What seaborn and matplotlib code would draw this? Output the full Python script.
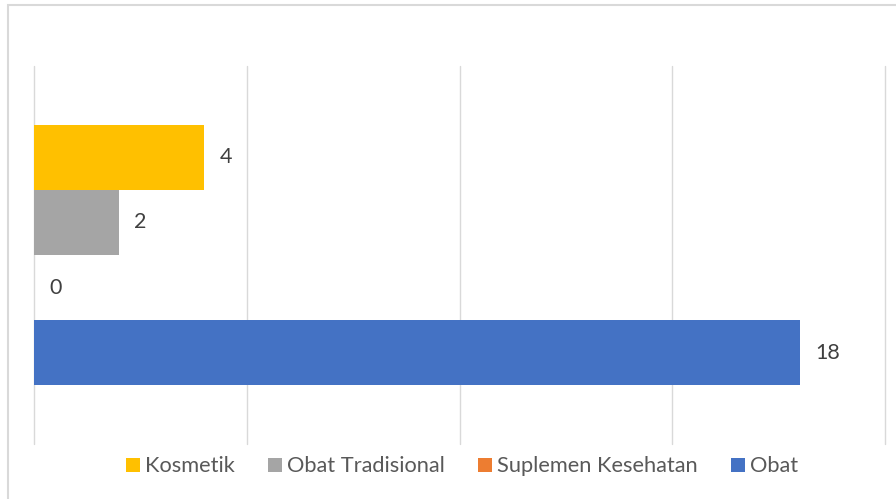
import matplotlib
matplotlib.use("Agg")
import matplotlib.pyplot as plt
from matplotlib.patches import Patch, Rectangle
import pandas as pd
import seaborn as sns

# Jumlah produk per jenis
series = ["Kosmetik", "Obat Tradisional", "Suplemen Kesehatan", "Obat"]
values = [4, 2, 0, 18]
colors = ["#FFC000", "#A5A5A5", "#ED7D31", "#4472C4"]
x_ticks = [0, 5, 10, 15, 20]

df = pd.DataFrame({"Kategori": [""] * len(series), "Jenis": series, "Jumlah": values})

sns.set_theme(style="white")
plt.rcParams["font.family"] = ["Lato", "DejaVu Sans"]

W, H = 896, 499
fig = plt.figure(figsize=(W / 100, H / 100), dpi=100)
ax = fig.add_axes([34 / W, 1 - 444 / H, (885 - 34) / W, (444 - 66) / H])

sns.barplot(data=df, x="Jumlah", y="Kategori", hue="Jenis", hue_order=series,
            palette=colors, orient="h", width=0.69, gap=0, errorbar=None,
            saturation=1, legend=False, linewidth=0, ax=ax)

ax.set_xlim(x_ticks[0], x_ticks[-1])
ax.set_xticks(x_ticks)
ax.set_xticklabels([])
ax.set_yticks([])
ax.set_xlabel("")
ax.set_ylabel("")
ax.tick_params(length=0)
for s in ax.spines.values():
    s.set_visible(False)
ax.set_axisbelow(True)
ax.xaxis.grid(True, color="#D9D9D9", linewidth=1.0)
for gl in ax.get_xgridlines():
    gl.set_clip_on(False)

for cont in ax.containers:
    ax.bar_label(cont, labels=[f"{v:g}" for v in cont.datavalues], padding=11,
                 color="#404040", fontsize=15.5)

handles = [Patch(facecolor=c, edgecolor="none", label=s) for s, c in zip(series, colors)]
fs = 15.7
px = fs * 100 / 72
fig.legend(handles=handles, loc="center", bbox_to_anchor=(462 / W, 1 - 466.5 / H),
           ncol=4, frameon=False, fontsize=fs, labelcolor="#595959",
           handlelength=14 / px, handleheight=14 / px,
           handletextpad=5 / px, columnspacing=33 / px, borderaxespad=0, borderpad=0)

# bingkai grafik
fig.patches.append(Rectangle((8 / W, -0.5), 2, 0.5 + 1 - 5 / H, transform=fig.transFigure,
                             fill=False, edgecolor="#D9D9D9", linewidth=1.5))

fig.savefig("out.png", dpi=100)
